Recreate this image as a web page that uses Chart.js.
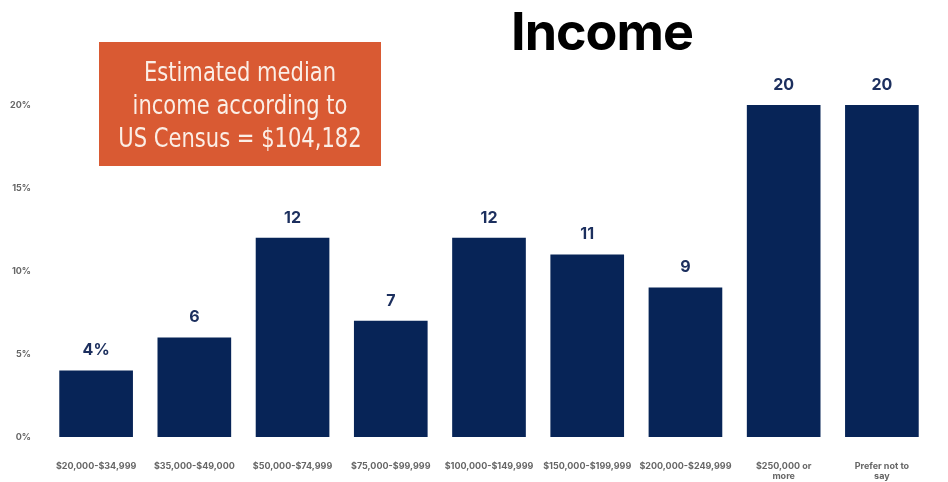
<!DOCTYPE html>
<html>
<head>
<meta charset="utf-8">
<script src="https://cdn.jsdelivr.net/npm/chart.js@4/dist/chart.umd.min.js"></script>
<style>
  html, body { margin: 0; padding: 0; background: #fff; }
  #wrap { position: relative; width: 948px; height: 482px; }
  #title {
    position: absolute; left: 452px; top: 6px; width: 300px; text-align: center;
    font: bold 52px "Inter", "Roboto", sans-serif; line-height: 52px;
    color: #000; letter-spacing: -1px;
  }
  #note {
    position: absolute; left: 99px; top: 42px; width: 282px; height: 124px;
    background: #d95a33; box-sizing: border-box; padding-top: 13px;
  }
  #note div {
    width: 400px; margin-left: -59px;
    color: #fbeee6; text-align: center; white-space: nowrap;
    font-family: "DejaVu Sans", sans-serif; font-size: 27px; line-height: 33px;
    transform: scaleX(0.78); transform-origin: 50% 0;
  }
</style>
</head>
<body>
<div id="wrap">
  <canvas id="chart" width="948" height="482"></canvas>
  <div id="title">Income</div>
  <div id="note"><div>Estimated median<br>income according to<br>US Census = $104,182</div></div>
</div>
<script>
  var categories = [
    '$20,000-$34,999',
    '$35,000-$49,000',
    '$50,000-$74,999',
    '$75,000-$99,999',
    '$100,000-$149,999',
    '$150,000-$199,999',
    '$200,000-$249,999',
    ['$250,000 or', 'more'],
    ['Prefer not to', 'say']
  ];
  var shares = [4, 6, 12, 7, 12, 11, 9, 20, 20];
  var yTicks = [0, 5, 10, 15, 20];

  var barColor = '#072457';
  var tickFont = { family: 'Inter', size: 9, weight: 'bold', lineHeight: 1.15 };

  // writes the value over each bar, the first one with a percent sign
  var valueLabels = {
    id: 'valueLabels',
    afterDatasetsDraw: function (chart) {
      var ctx = chart.ctx;
      var meta = chart.getDatasetMeta(0);
      ctx.save();
      ctx.fillStyle = '#1c2f5e';
      ctx.font = 'bold 16px "Inter", sans-serif';
      ctx.textAlign = 'center';
      ctx.textBaseline = 'middle';
      meta.data.forEach(function (bar, i) {
        var text = shares[i] + (i === 0 ? '%' : '');
        ctx.fillText(text, bar.x, bar.y - 20);
      });
      ctx.restore();
    }
  };

  new Chart(document.getElementById('chart').getContext('2d'), {
    type: 'bar',
    data: {
      labels: categories,
      datasets: [{
        data: shares,
        backgroundColor: barColor,
        borderWidth: 0,
        barPercentage: 0.75,
        categoryPercentage: 1
      }]
    },
    options: {
      responsive: false,
      animation: false,
      events: [],
      layout: {
        padding: { left: 0, right: 17, top: 105, bottom: 0 }
      },
      plugins: {
        legend: { display: false },
        tooltip: { enabled: false }
      },
      scales: {
        x: {
          grid: { display: false, drawTicks: false },
          border: { display: false },
          afterFit: function (axis) { axis.height = 45; },
          ticks: {
            color: '#666',
            font: tickFont,
            maxRotation: 0,
            autoSkip: false,
            padding: 24
          }
        },
        y: {
          min: 0,
          max: 20,
          afterBuildTicks: function (axis) {
            axis.ticks = yTicks.map(function (v) { return { value: v }; });
          },
          afterFit: function (axis) { axis.width = 47; },
          grid: { display: false, drawTicks: false },
          border: { display: false },
          ticks: {
            color: '#666',
            font: tickFont,
            padding: 16,
            callback: function (v) { return v + '%'; }
          }
        }
      }
    },
    plugins: [valueLabels]
  });
</script>
</body>
</html>
